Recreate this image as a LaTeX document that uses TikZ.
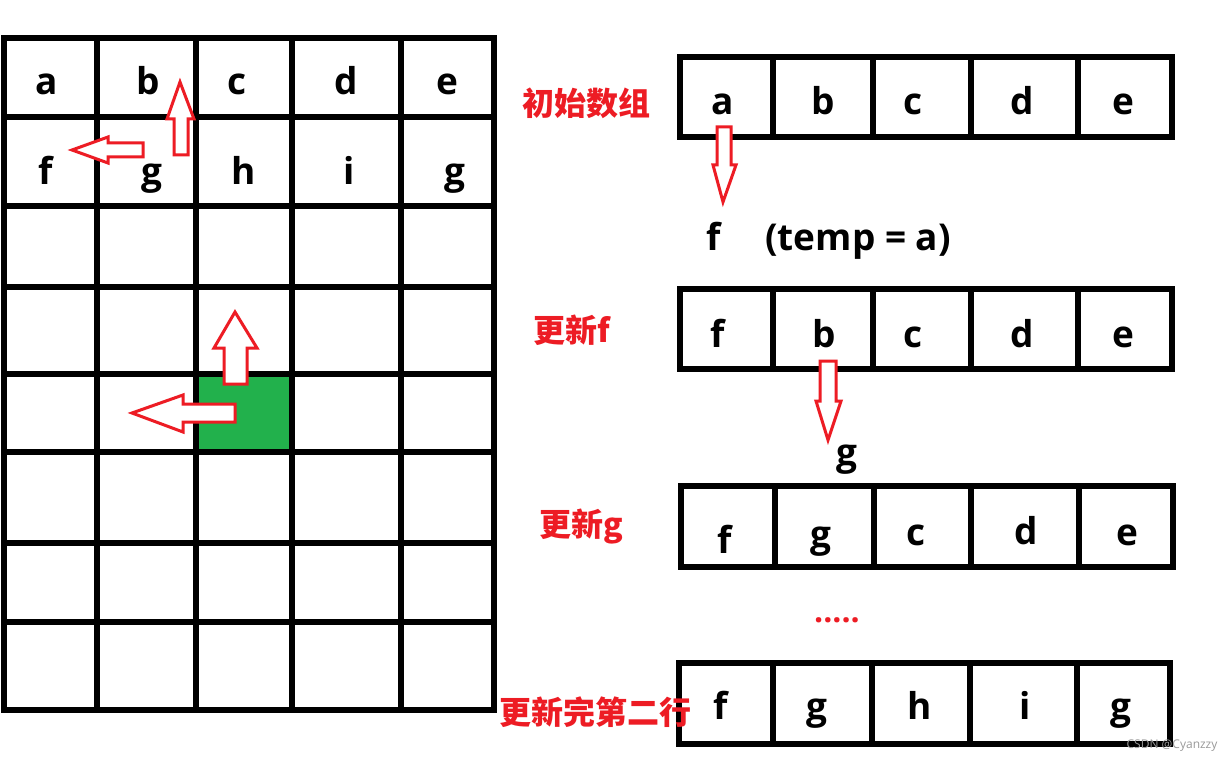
\documentclass[tikz,border=0pt]{standalone}
\usepackage{fontspec}
\setmainfont{Open Sans}
\newfontfamily\cjk{Noto Sans CJK SC}
\definecolor{pred}{HTML}{ED1C24}
\definecolor{pgreen}{HTML}{22B14C}
\begin{document}
\begin{tikzpicture}[x=1pt,y=-1pt,
  gridline/.style={line width=6pt, line cap=rect},
  let/.style={font=\fontsize{37}{40}\selectfont\bfseries, anchor=base, inner sep=0pt, yshift=-2pt},
  lab/.style={font=\cjk\fontsize{32}{36}\selectfont\bfseries, text=pred, anchor=west, inner sep=0pt},
  barrow/.style={draw=pred, line width=3pt, fill=white, line join=miter}]
\useasboundingbox[fill=white] (0,0) rectangle (1232,762);

% ---------- left grid ----------
\fill[pgreen] (197,375) rectangle (292,452);
\foreach \x in {4,97,196,292,401,494} \draw[gridline] (\x,38) -- (\x,710);
\foreach \y in {38,117,206,287,374,452,543,622,710} \draw[gridline] (4,\y) -- (494,\y);

\node[let] (la) at (47,93) {a};
\node[let] (lb) at (148,93) {b};
\node[let] (lc) at (237,93) {c};
\node[let] (ld) at (346,93) {d};
\node[let] (le) at (447,93) {e};
\node[let] (lf) at (46,183) {f};
\node[let] (lg) at (152,183) {g};
\node[let] (lh) at (244,183) {h};
\node[let] (li) at (349,183) {i};
\node[let] (lg2) at (455,183) {g};

% block arrows in grid
\draw[barrow] (174,155) -- (174,119) -- (167,119) -- (180,82) -- (194,119) -- (188,119) -- (188,155) -- cycle;
\draw[barrow] (143,143) -- (108,143) -- (108,137) -- (72,150) -- (108,163) -- (108,157) -- (143,157) -- cycle;
\draw[barrow] (224,384) -- (224,348) -- (214,348) -- (235,312) -- (257,348) -- (247,348) -- (247,384) -- cycle;
\draw[barrow] (235,404) -- (183,404) -- (183,395) -- (132,413) -- (183,432) -- (183,422) -- (235,422) -- cycle;

% ---------- right arrays ----------
% array 1
\draw[gridline] (680,57) rectangle (1172,137);
\foreach \x in {773,873,971,1078} \draw[gridline] (\x,57) -- (\x,137);
\node[let] (a1) at (723,113) {a};
\node[let] (b1) at (823,113) {b};
\node[let] (c1) at (913,113) {c};
\node[let] (d1) at (1022,113) {d};
\node[let] (e1) at (1123,113) {e};
\node[lab] (l1) at (522,103) {初始数组};

\draw[barrow] (717,127) -- (731,127) -- (731,165) -- (736,165) -- (723,202) -- (713,165) -- (717,165) -- cycle;
\node[let] (tf) at (714,249) {f};
\node[let] (temp) at (858,249) {(temp = a)};

% array 2
\draw[gridline] (680,289) rectangle (1172,369);
\foreach \x in {773,873,971,1078} \draw[gridline] (\x,289) -- (\x,369);
\node[let] (f2) at (718,345) {f};
\node[let] (b2) at (824,345) {b};
\node[let] (c2) at (913,345) {c};
\node[let] (d2) at (1022,345) {d};
\node[let] (e2) at (1123,345) {e};
\node[lab] (l2) at (533,330) {更新f};

\draw[barrow] (820,361) -- (836,361) -- (836,401) -- (841,401) -- (828,440) -- (816,401) -- (820,401) -- cycle;
\node[let] (tg) at (847,463) {g};

% array 3
\draw[gridline] (681,486) rectangle (1173,567);
\foreach \x in {775,874,971,1079} \draw[gridline] (\x,486) -- (\x,567);
\node[let] (f3) at (725,551) {f};
\node[let] (g3) at (821,545) {g};
\node[let] (c3) at (916,543) {c};
\node[let] (d3) at (1026,542) {d};
\node[let] (e3) at (1127,543) {e};
\node[lab] (l3) at (539,527) {更新g};

\node[font=\fontsize{32}{36}\selectfont\bfseries, text=pred, anchor=base, inner sep=0pt] (dots) at (837,622) {.....};

% array 4
\draw[gridline] (679,663) rectangle (1170,744);
\foreach \x in {773,872,970,1077} \draw[gridline] (\x,663) -- (\x,744);
\node[let] (f4) at (721,717) {f};
\node[let] (g4) at (817,717) {g};
\node[let] (h4) at (920,717) {h};
\node[let] (i4) at (1025,717) {i};
\node[let] (g42) at (1121,717) {g};
\node[lab] (l4) at (499,712) {更新完第二行};

\node[font=\fontsize{12}{13}\selectfont, text=black!40, inner sep=0pt] (wm) at (1172,746) {CSDN @Cyanzzy};
\end{tikzpicture}
\end{document}
